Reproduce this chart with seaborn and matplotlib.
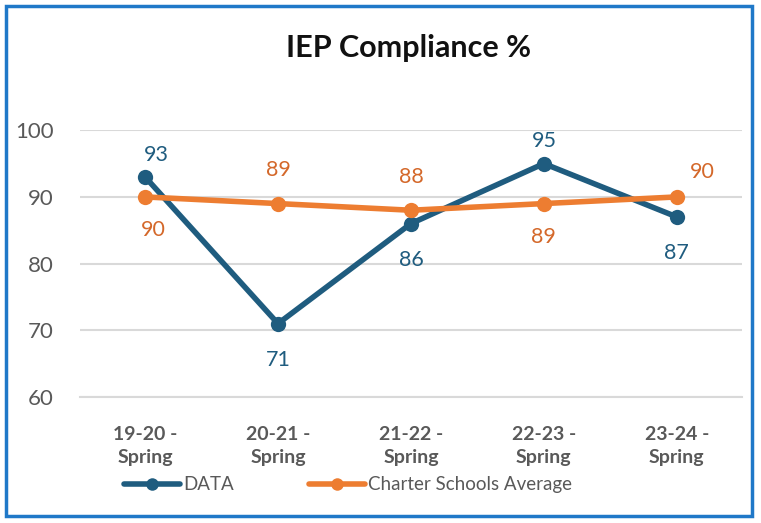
import matplotlib
matplotlib.use("Agg")
import matplotlib.pyplot as plt
import seaborn as sns
import pandas as pd
from matplotlib.patches import Rectangle

categories = ["19-20 -\nSpring", "20-21 -\nSpring", "21-22 -\nSpring", "22-23 -\nSpring", "23-24 -\nSpring"]
data_values = [93, 71, 86, 95, 87]
charter_avg = [90, 89, 88, 89, 90]
series_names = ["DATA", "Charter Schools Average"]
data_label_pos = ["above", "below", "below", "above", "below"]
charter_label_pos = ["below", "above", "above", "below", "above"]

BLUE = "#1F5C7F"
ORANGE = "#ED7D31"
ORANGE_TXT = "#D4682A"
GRAY = "#595959"

sns.set_theme(style="white")
plt.rcParams["font.family"] = ["Lato", "DejaVu Sans"]

df = pd.DataFrame({
    "cat": list(range(len(categories))) * 2,
    "value": data_values + charter_avg,
    "series": [series_names[0]] * len(categories) + [series_names[1]] * len(categories),
})

fig = plt.figure(figsize=(7.61, 5.23), dpi=100)
ax = fig.add_axes([0.105, 0.241, 0.87, 0.510])

sns.lineplot(data=df, x="cat", y="value", hue="series", palette=[BLUE, ORANGE],
             marker="o", markersize=11, markeredgewidth=0, linewidth=4, ax=ax,
             legend=True)

ax.set_xlim(-0.49, 4.49)
ax.set_ylim(60, 100)
ax.set_yticks([60, 70, 80, 90, 100])
ax.yaxis.grid(True, color="#D9D9D9", linewidth=1.5)
ax.set_axisbelow(True)
for s in ["top", "right", "left"]:
    ax.spines[s].set_visible(False)
ax.spines["bottom"].set_color("#D9D9D9")
ax.spines["bottom"].set_linewidth(1.5)
ax.set_xticks(range(len(categories)))
ax.set_xticklabels(categories, fontsize=14, fontweight="bold", color=GRAY, linespacing=1.4)
ax.tick_params(axis="y", labelsize=16, labelcolor=GRAY, length=0, pad=19)
ax.tick_params(axis="x", length=0, pad=21)
ax.set_xlabel("")
ax.set_ylabel("")

for i, v in enumerate(data_values):
    dy = 16 if data_label_pos[i] == "above" else -26
    ax.annotate(str(v), (i, v), xytext=(8 if i == 0 else 0, dy), textcoords="offset points",
                ha="center", va="center", fontsize=15.5, color=BLUE)
for i, v in enumerate(charter_avg):
    dx = 0
    dy = 24 if charter_label_pos[i] == "above" else -24
    if i == 4:
        dx, dy = 18, 18
    if i == 0:
        dx = 6
    ax.annotate(str(v), (i, v), xytext=(dx, dy), textcoords="offset points",
                ha="center", va="center", fontsize=15.5, color=ORANGE_TXT)

leg = ax.legend(loc="center", bbox_to_anchor=(0.405, -0.33), ncol=2, frameon=False,
                fontsize=13.5, handlelength=3.0, handletextpad=0.15, columnspacing=4.0,
                labelcolor=GRAY)
for h in leg.legend_handles:
    h.set_linewidth(4)
    h.set_markersize(9)

fig.text(0.537, 0.908, "IEP Compliance %", ha="center", va="center",
         fontsize=22, fontweight="bold", color="#111111")

fig.patches.append(Rectangle((6/761, 7/523), 746/761, 510/523, transform=fig.transFigure,
                             fill=False, edgecolor="#1F78C8", linewidth=2.5))

fig.savefig("out.png", dpi=100)
